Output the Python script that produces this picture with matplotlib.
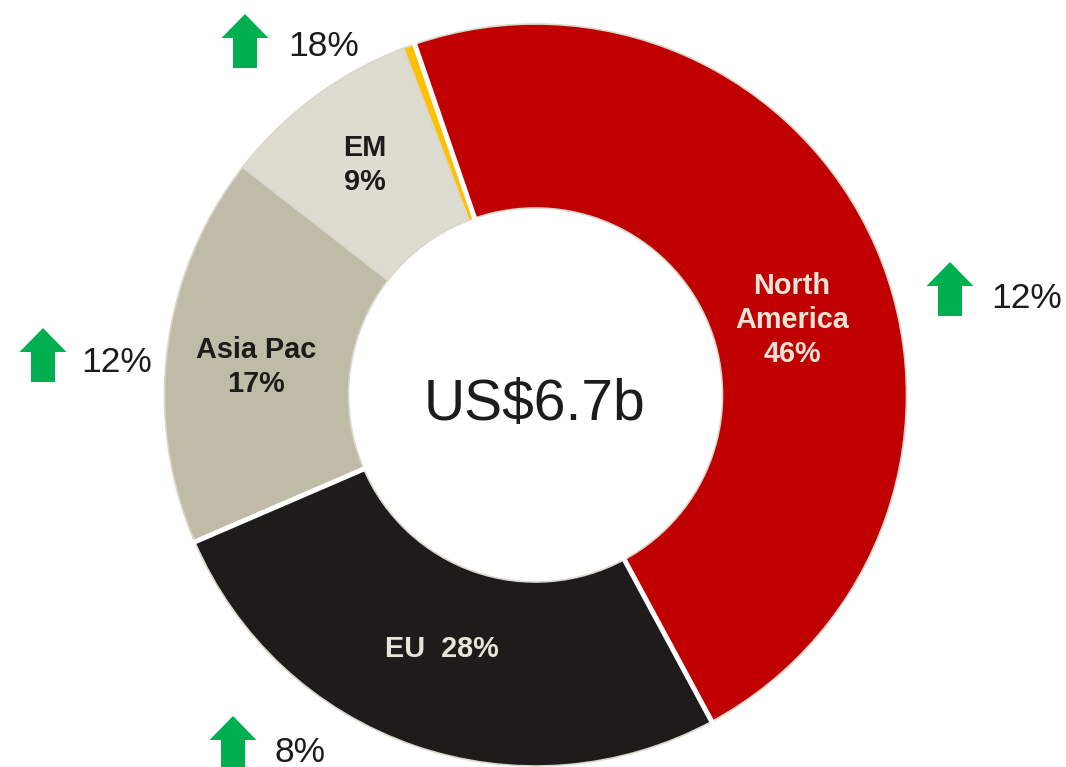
import numpy as np
import matplotlib
matplotlib.use("Agg")
import matplotlib.pyplot as plt
from matplotlib.patches import Wedge, FancyArrow

plt.rcParams['font.family'] = ['Liberation Sans', 'DejaVu Sans']

W, H = 1066, 767

# clockwise from the top of the ring, starting at North America
segments = ["North America", "EU", "Asia Pac", "EM", "Other"]
shares = [47.4, 26.4, 17.0, 8.7, 0.5]
colors = ["#C00000", "#1D1C1A", "#C0BBA6", "#DEDCD0", "#FFC000"]

labels = ["North\nAmerica\n46%", "EU  28%", "Asia Pac\n17%", "EM\n9%"]
label_colors = ["#E8E4D8", "#E8E4D8", "#1D1C1A", "#1D1C1A"]
label_pos = [(792, 320), (442, 649), (256, 367), (365, 165)]

growth = ["12%", "8%", "12%", "18%"]
arrow_pos = [(950, 262), (233, 716), (43, 328), (245, 14)]
growth_pos = [(991, 299), (274, 752), (81, 363), (288, 47)]

cx, cy = 535.5, 395
r_out, r_in = 371, 187
start_angle = -109  # flipped y axis, so angles run clockwise from +x

fig = plt.figure(figsize=(W / 100, H / 100), dpi=100)
ax = fig.add_axes([0, 0, 1, 1])
ax.set_xlim(0, W)
ax.set_ylim(H, 0)
ax.axis("off")

start = start_angle
for share, color in zip(shares, colors):
    sweep = share / sum(shares) * 360
    ax.add_patch(Wedge((cx, cy), r_out, start, start + sweep, width=r_out - r_in,
                       facecolor=color, edgecolor="#DAD7CC", linewidth=1.2))
    start += sweep

# white gaps where slices are pulled apart
for s in [0, shares[0], shares[0] + shares[1]]:
    a = np.deg2rad(start_angle + s / sum(shares) * 360)
    ax.plot([cx + r_in * np.cos(a), cx + (r_out + 2) * np.cos(a)],
            [cy + r_in * np.sin(a), cy + (r_out + 2) * np.sin(a)], color="white", lw=3.6)

for text, color, (x, y) in zip(labels, label_colors, label_pos):
    ax.text(x, y, text, color=color, fontsize=20.8, fontweight="bold", ha="center",
            va="center", linespacing=1.27)

ax.text(535, 405, "US$6.7b", fontsize=41, color="#1D1C1A", ha="center", va="center")

for (x, y), text, (tx, ty) in zip(arrow_pos, growth, growth_pos):
    ax.add_patch(FancyArrow(x, y + 54, 0, -54, width=24, head_width=47, head_length=24,
                            length_includes_head=True, facecolor="#00B050", edgecolor="none"))
    ax.text(tx, ty, text, fontsize=25.5, color="#1D1C1A", ha="left", va="center")

fig.savefig("out.png", dpi=100)
